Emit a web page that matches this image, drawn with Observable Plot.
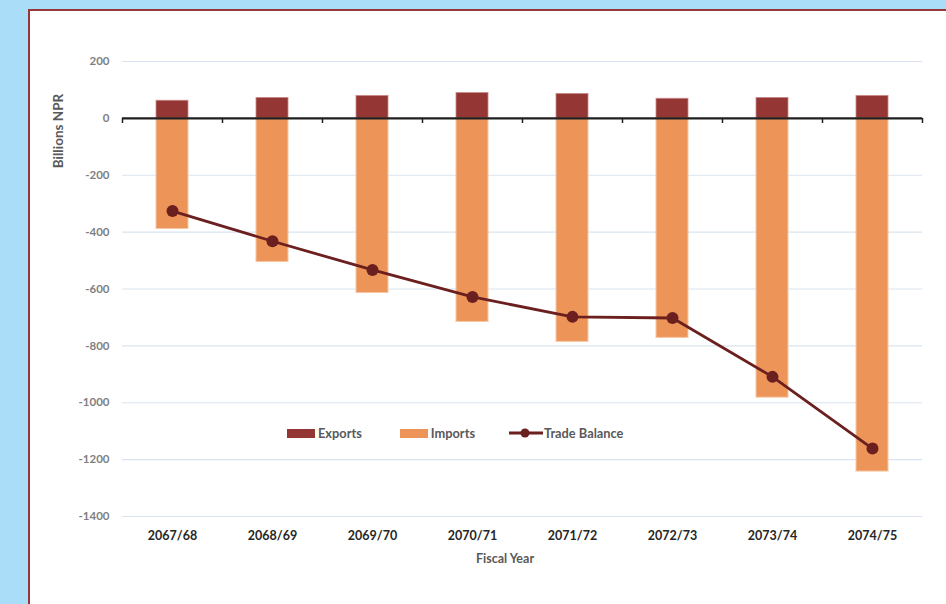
<!DOCTYPE html>
<html>
<head>
<meta charset="utf-8">
<script src="https://cdn.jsdelivr.net/npm/d3@7"></script>
<script src="https://cdn.jsdelivr.net/npm/@observablehq/plot@0.6"></script>
<style>
  html, body { margin: 0; padding: 0; }
  body { width: 946px; height: 604px; background: #a9ddf8; position: relative; overflow: hidden; font-family: Lato, "Open Sans", sans-serif; }
  #panel { position: absolute; left: 28px; top: 9px; width: 940px; height: 620px; background: #fff; border: 2px solid #963838; box-sizing: border-box; }
  #chart { position: absolute; left: 0; top: 0; }
  #legend { position: absolute; top: 425px; left: 287px; font-size: 12.8px; font-weight: 700; color: #595959; display: flex; align-items: center; white-space: nowrap; }
  .item { display: flex; align-items: center; }
  .sw { width: 28px; height: 9px; display: inline-block; margin-right: 3px; }
  #ytitle { position: absolute; left: 58px; top: 131px; transform: translate(-50%, -50%) rotate(-90deg); font-size: 13.5px; font-weight: 700; color: #595959; white-space: nowrap; }
  #xtitle { position: absolute; left: 505px; top: 558px; transform: translate(-50%, -50%); font-size: 12.5px; font-weight: 700; color: #595959; white-space: nowrap; }
</style>
</head>
<body>
<div id="panel"></div>
<div id="chart"></div>
<div id="ytitle">Billions NPR</div>
<div id="xtitle">Fiscal Year</div>
<div id="legend">
  <span class="item"><span class="sw" style="background:#943634"></span>Exports</span>
  <span class="item" style="margin-left:38px"><span class="sw" style="background:#ed9559"></span>Imports</span>
  <span class="item" style="margin-left:34px">
    <svg width="34" height="12" style="margin-right:1px"><line x1="0" y1="6" x2="34" y2="6" stroke="#6b1f1f" stroke-width="2.8"/><circle cx="16" cy="6" r="4.5" fill="#6b1f1f"/></svg>Trade Balance</span>
</div>
<script>
const years = ["2067/68","2068/69","2069/70","2070/71","2071/72","2072/73","2073/74","2074/75"];
const exportsV = [62, 72, 79, 89, 86, 69, 72, 79];
const importsV = [-389, -505, -614, -716, -786, -772, -982, -1242];
const balanceV = [-326, -432, -533, -628, -698, -702, -909, -1161];
const yTicks = [200, 0, -200, -400, -600, -800, -1000, -1200, -1400];

const rows = years.map((y, i) => ({year: y, exp: exportsV[i], imp: importsV[i], bal: balanceV[i]}));
const gridTicks = yTicks.filter(t => t !== 0);

const plot = Plot.plot({
  width: 946,
  height: 604,
  marginLeft: 122,
  marginRight: 24,
  marginTop: 61,
  marginBottom: 88,
  style: {background: "transparent", fontFamily: "Lato, 'Open Sans', sans-serif", overflow: "visible"},
  x: {domain: years, paddingInner: 0.68, paddingOuter: 0.34, label: null},
  y: {domain: [-1400, 200], label: null},
  marks: [
    Plot.ruleY(gridTicks, {y: d => d, stroke: "#d9e3f1", strokeWidth: 1.2}),
    Plot.barY(rows, {x: "year", y1: 0, y2: "imp", fill: "#ed9559", stroke: "#f6c7a4", strokeWidth: 1}),
    Plot.barY(rows, {x: "year", y1: 0, y2: "exp", fill: "#943634", stroke: "#c98a88", strokeWidth: 0.8}),
    Plot.ruleY([0], {stroke: "#1f1f1f", strokeWidth: 2.2}),
    Plot.ruleX(years, {x: d => d, dx: -50, y1: 0, y2: -18, stroke: "#1f1f1f", strokeWidth: 1.5}),
    Plot.ruleX([years[years.length - 1]], {x: d => d, dx: 50, y1: 0, y2: -18, stroke: "#1f1f1f", strokeWidth: 1.5}),
    Plot.line(rows, {x: "year", y: "bal", stroke: "#6b1f1f", strokeWidth: 2.8}),
    Plot.dot(rows, {x: "year", y: "bal", r: 6, fill: "#6b1f1f"}),
    Plot.axisY({ticks: yTicks, tickFormat: d => String(d), tickSize: 0, tickPadding: 13, fontSize: 11.5, fontWeight: 700, color: "#7f7f7f", label: null}),
    Plot.axisX({tickSize: 0, tickPadding: 15, fontSize: 12.5, fontWeight: 700, color: "#262626", label: null})
  ]
});
document.getElementById("chart").appendChild(plot);
</script>
</body>
</html>
